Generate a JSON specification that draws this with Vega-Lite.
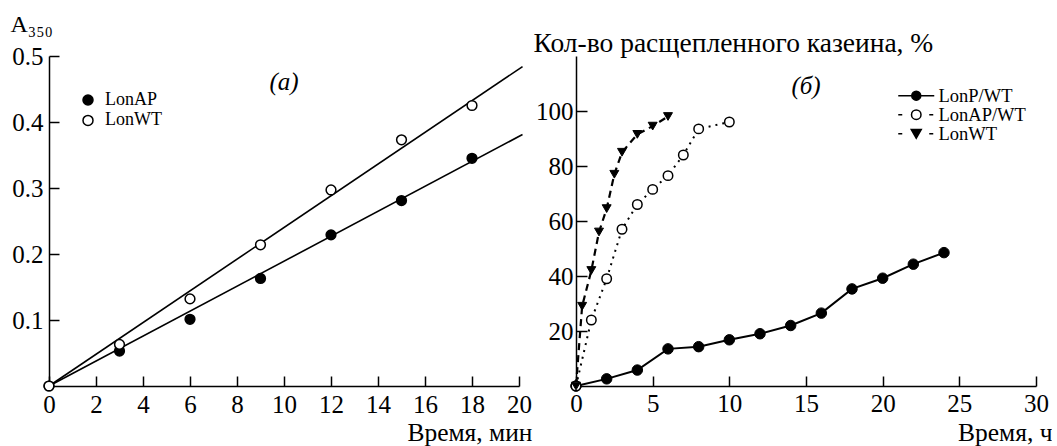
{
  "$schema": "https://vega.github.io/schema/vega-lite/v6.json",
  "background": "white",
  "padding": {"left": 10, "top": 12, "right": 0, "bottom": 0},
  "config": {
    "view": {"stroke": null},
    "font": "Liberation Serif, DejaVu Serif",
    "axis": {
      "grid": false,
      "domainColor": "black",
      "domainWidth": 1.5,
      "tickColor": "black",
      "tickWidth": 1.5,
      "labelColor": "black",
      "labelFont": "Liberation Serif, DejaVu Serif",
      "labelFontSize": 25,
      "labelFlush": false,
      "labelOverlap": false,
      "titleFont": "Liberation Serif, DejaVu Serif",
      "titleFontSize": 25.5,
      "titleFontWeight": "normal",
      "titleColor": "black"
    },
    "legend": {
      "labelFont": "Liberation Serif, DejaVu Serif",
      "labelColor": "black",
      "padding": 0
    }
  },
  "spacing": 57,
  "bounds": "flush",
  "resolve": {
    "scale": {"fill": "independent", "shape": "independent", "stroke": "independent"},
    "legend": {"fill": "independent", "shape": "independent", "stroke": "independent"}
  },
  "datasets": {
    "fitA": [
      {"series": "LonWT", "t": 0, "v": 0},
      {"series": "LonWT", "t": 20.15, "v": 0.484},
      {"series": "LonAP", "t": 0, "v": 0},
      {"series": "LonAP", "t": 20.15, "v": 0.381}
    ],
    "pointsA": [
      {"series": "LonAP", "t": 0, "v": 0},
      {"series": "LonAP", "t": 3, "v": 0.053},
      {"series": "LonAP", "t": 6, "v": 0.101},
      {"series": "LonAP", "t": 9, "v": 0.163},
      {"series": "LonAP", "t": 12, "v": 0.229},
      {"series": "LonAP", "t": 15, "v": 0.281},
      {"series": "LonAP", "t": 18, "v": 0.345},
      {"series": "LonWT", "t": 0, "v": 0},
      {"series": "LonWT", "t": 3, "v": 0.063},
      {"series": "LonWT", "t": 6, "v": 0.132},
      {"series": "LonWT", "t": 9, "v": 0.214},
      {"series": "LonWT", "t": 12, "v": 0.297},
      {"series": "LonWT", "t": 15, "v": 0.373},
      {"series": "LonWT", "t": 18, "v": 0.425}
    ],
    "pointsB": [
      {"series": "LonP/WT", "t": 0, "v": 0},
      {"series": "LonP/WT", "t": 2, "v": 2.6},
      {"series": "LonP/WT", "t": 4, "v": 5.8},
      {"series": "LonP/WT", "t": 6, "v": 13.5},
      {"series": "LonP/WT", "t": 8, "v": 14.3},
      {"series": "LonP/WT", "t": 10, "v": 16.8},
      {"series": "LonP/WT", "t": 12, "v": 19},
      {"series": "LonP/WT", "t": 14, "v": 22},
      {"series": "LonP/WT", "t": 16, "v": 26.5},
      {"series": "LonP/WT", "t": 18, "v": 35.3},
      {"series": "LonP/WT", "t": 20, "v": 39.2},
      {"series": "LonP/WT", "t": 22, "v": 44.3},
      {"series": "LonP/WT", "t": 24, "v": 48.5},
      {"series": "LonAP/WT", "t": 0, "v": 0},
      {"series": "LonAP/WT", "t": 1, "v": 24},
      {"series": "LonAP/WT", "t": 2, "v": 39},
      {"series": "LonAP/WT", "t": 3, "v": 57},
      {"series": "LonAP/WT", "t": 4, "v": 66},
      {"series": "LonAP/WT", "t": 5, "v": 71.5},
      {"series": "LonAP/WT", "t": 6, "v": 76.5},
      {"series": "LonAP/WT", "t": 7, "v": 84},
      {"series": "LonAP/WT", "t": 8, "v": 93.5},
      {"series": "LonAP/WT", "t": 10, "v": 96},
      {"series": "LonWT", "t": 0, "v": 0},
      {"series": "LonWT", "t": 0.4, "v": 29},
      {"series": "LonWT", "t": 1, "v": 42},
      {"series": "LonWT", "t": 1.5, "v": 56},
      {"series": "LonWT", "t": 2, "v": 64.5},
      {"series": "LonWT", "t": 2.5, "v": 77},
      {"series": "LonWT", "t": 3, "v": 85},
      {"series": "LonWT", "t": 4, "v": 91.5},
      {"series": "LonWT", "t": 5, "v": 94.5},
      {"series": "LonWT", "t": 6, "v": 98}
    ],
    "notes": [
      {"panel": "a", "t": 10, "v": 0.46, "label": "(а)"},
      {"panel": "b", "t": 15, "v": 109, "label": "(б)"}
    ]
  },
  "hconcat": [
    {
      "width": 470,
      "height": 330,
      "encoding": {
        "x": {
          "field": "t", "type": "quantitative",
          "scale": {"domain": [0, 20], "nice": false, "zero": true},
          "axis": {
            "values": [0, 2, 4, 6, 8, 10, 12, 14, 16, 18, 20],
            "tickSize": -10, "labelPadding": 16,
            "title": "Время, мин", "titleAlign": "right", "titleBaseline": "alphabetic",
            "titleX": 483, "titleY": 54
          }
        },
        "y": {
          "field": "v", "type": "quantitative",
          "scale": {"domain": [0, 0.5], "nice": false, "zero": true},
          "axis": {
            "values": [0.1, 0.2, 0.3, 0.4, 0.5], "format": ".1f",
            "tickSize": -10, "labelPadding": 16,
            "title": "A₃₅₀", "titleFontSize": 24, "titleAngle": 0, "titleAlign": "left", "titleBaseline": "alphabetic",
            "titleX": -39, "titleY": -25
          }
        }
      },
      "layer": [
        {
          "data": {"name": "fitA"},
          "mark": {"type": "line", "color": "black", "strokeWidth": 1.6, "clip": false},
          "encoding": {"detail": {"field": "series", "type": "nominal"}}
        },
        {
          "data": {"name": "pointsA"},
          "mark": {"type": "point", "filled": true, "shape": "circle", "size": 95, "stroke": "black", "strokeWidth": 1.5, "opacity": 1},
          "encoding": {
            "fill": {
              "field": "series", "type": "nominal",
              "scale": {"domain": ["LonAP", "LonWT"], "range": ["black", "white"]},
              "legend": {
                "orient": "none", "legendX": 30, "legendY": 35, "title": null,
                "symbolType": "circle", "symbolSize": 100, "symbolStrokeColor": "black", "symbolStrokeWidth": 1.5,
                "labelFontSize": 18, "labelOffset": 8, "rowPadding": 2.4
              }
            }
          }
        },
        {
          "data": {"name": "notes"},
          "transform": [{"filter": "datum.panel == 'a'"}],
          "mark": {"type": "text", "font": "Liberation Serif, DejaVu Serif", "fontStyle": "italic", "fontSize": 25, "color": "black"},
          "encoding": {"text": {"field": "label", "type": "nominal"}}
        }
      ]
    },
    {
      "width": 460,
      "height": 330,
      "encoding": {
        "x": {
          "field": "t", "type": "quantitative",
          "scale": {"domain": [0, 30], "nice": false, "zero": true},
          "axis": {
            "values": [0, 5, 10, 15, 20, 25, 30],
            "tickSize": -10, "labelPadding": 15,
            "title": "Время, ч", "titleAlign": "right", "titleBaseline": "alphabetic",
            "titleX": 476, "titleY": 54
          }
        },
        "y": {
          "field": "v", "type": "quantitative",
          "scale": {"domain": [0, 120], "nice": false, "zero": true},
          "axis": {
            "values": [20, 40, 60, 80, 100],
            "tickSize": -11, "labelPadding": 14,
            "title": "Кол-во расщепленного казеина, %", "titleFontSize": 27.5, "titleAngle": 0, "titleAlign": "left", "titleBaseline": "alphabetic",
            "titleX": -43, "titleY": -5
          }
        }
      },
      "layer": [
        {
          "data": {"name": "pointsB"},
          "transform": [{"filter": "datum.series == 'LonP/WT'"}],
          "mark": {"type": "line", "color": "black", "strokeWidth": 2}
        },
        {
          "data": {"name": "pointsB"},
          "transform": [{"filter": "datum.series == 'LonAP/WT'"}],
          "mark": {"type": "line", "color": "black", "strokeWidth": 2, "strokeDash": [2, 5]}
        },
        {
          "data": {"name": "pointsB"},
          "transform": [{"filter": "datum.series == 'LonWT'"}],
          "mark": {"type": "line", "color": "black", "strokeWidth": 2.2, "strokeDash": [7, 5]}
        },
        {
          "data": {"name": "pointsB"},
          "transform": [{"filter": "datum.series == 'LonP/WT'"}],
          "mark": {"type": "point", "filled": true, "shape": "circle", "size": 110, "fill": "black", "stroke": "black", "strokeWidth": 1, "opacity": 1}
        },
        {
          "data": {"name": "pointsB"},
          "transform": [{"filter": "datum.series == 'LonAP/WT'"}],
          "mark": {"type": "point", "filled": true, "shape": "circle", "size": 90, "fill": "white", "stroke": "black", "strokeWidth": 1.5, "opacity": 1}
        },
        {
          "data": {"name": "pointsB"},
          "transform": [{"filter": "datum.series == 'LonWT'"}],
          "mark": {"type": "point", "filled": true, "shape": "triangle-down", "size": 80, "fill": "black", "stroke": "black", "strokeWidth": 1, "opacity": 1}
        },
        {
          "data": {"name": "pointsB"},
          "transform": [{"filter": "false"}],
          "mark": {"type": "point", "filled": true, "strokeWidth": 1.5, "opacity": 1},
          "encoding": {
            "shape": {
              "field": "series", "type": "nominal",
              "scale": {
                "domain": ["LonP/WT", "LonAP/WT", "LonWT"],
                "range": [
                  "M-1,0L6.2,0M3.5,0A0.9,0.9,0,1,1,1.7,0A0.9,0.9,0,1,1,3.5,0Z",
                  "M-1,0L-0.2,0M5.2,0L6,0M3.55,0A0.95,0.95,0,1,1,1.65,0A0.95,0.95,0,1,1,3.55,0Z",
                  "M-1,0L-0.2,0M5.2,0L6,0M1.6,-0.85L3.6,-0.85L2.6,0.9Z"
                ]
              },
              "legend": {
                "orient": "none", "legendX": 318, "legendY": 31.5, "title": null,
                "symbolSize": 100, "symbolStrokeWidth": 1.5,
                "labelFontSize": 18.5, "labelOffset": 26, "rowPadding": 0, "clipHeight": 16.3
              }
            },
            "fill": {
              "field": "series", "type": "nominal",
              "scale": {"domain": ["LonP/WT", "LonAP/WT", "LonWT"], "range": ["black", "white", "black"]}
            },
            "stroke": {
              "field": "series", "type": "nominal",
              "scale": {"domain": ["LonP/WT", "LonAP/WT", "LonWT"], "range": ["black", "black", "black"]}
            }
          }
        },
        {
          "data": {"name": "notes"},
          "transform": [{"filter": "datum.panel == 'b'"}],
          "mark": {"type": "text", "font": "Liberation Serif, DejaVu Serif", "fontStyle": "italic", "fontSize": 25, "color": "black"},
          "encoding": {"text": {"field": "label", "type": "nominal"}}
        }
      ]
    }
  ]
}
